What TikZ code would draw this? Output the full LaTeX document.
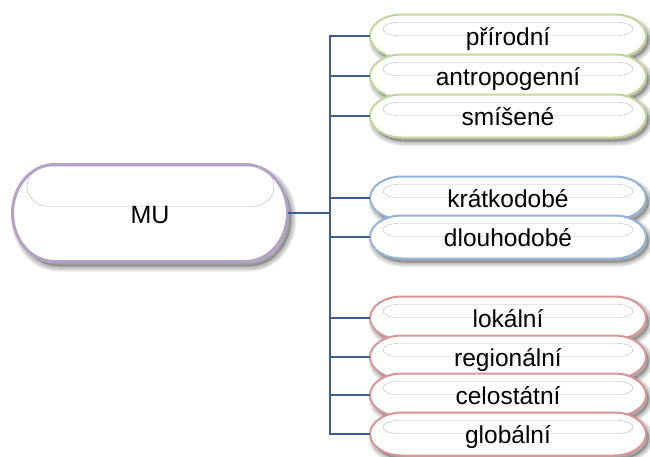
\documentclass[tikz,border=0pt]{standalone}
\usepackage{fontspec}
\setmainfont{Liberation Sans}
\definecolor{cgreen}{HTML}{C3D69B}
\definecolor{cblue}{HTML}{95B3D7}
\definecolor{cred}{HTML}{D99694}
\definecolor{cpurple}{HTML}{B3A2C7}
\definecolor{cline}{HTML}{3B5F96}
% pill outline: cx, cy, width, height, end x-radius
\newcommand\pillpath[5]{(#1-#3/2+#5,#2+#4/2) -- (#1+#3/2-#5,#2+#4/2) arc[start angle=90,end angle=-90,x radius=#5,y radius=#4/2] -- (#1-#3/2+#5,#2-#4/2) arc[start angle=270,end angle=90,x radius=#5,y radius=#4/2] -- cycle}
\tikzset{
  softshadow/.style={draw=black, fill=black, opacity=0.09},
  pillborder/.style={fill=white, draw=#1, line width=2pt},
  gloss/.style={draw=gray!55, line width=0.4pt},
  pilltext/.style={inner sep=0pt, minimum width=276pt, minimum height=43pt,
    font=\fontsize{24.5}{28}\selectfont, text height=22pt, text depth=4pt},
  mutext/.style={inner sep=0pt, minimum width=275pt, minimum height=97pt,
    font=\fontsize{25}{30}\selectfont, text height=24pt, text depth=4pt},
  conn/.style={draw=cline, line width=1.8pt},
}
\newcommand\branchnode[4]{% name, cy, colour, text
  \foreach \lw in {9,6,3}{\path[softshadow, line width=\lw pt, shift={(3,-4)}] \pillpath{508}{#2}{276}{43}{32};}
  \draw[pillborder=#3] \pillpath{508}{#2}{276}{43}{32};
  \draw[gloss] \pillpath{508}{#2+7}{250}{13}{15};
  \node[pilltext] (#1) at (508,#2) {#4};
}
\begin{document}
\begin{tikzpicture}[x=1pt,y=1pt]
\useasboundingbox (0,0) rectangle (650,-456);
% main node
\foreach \lw in {10,7,4}{\path[softshadow, line width=\lw pt, shift={(4,-5)}] \pillpath{150}{-213}{275}{97}{42};}
\draw[fill=white, draw=cpurple, line width=3pt] \pillpath{150}{-213}{275}{97}{42};
\draw[gloss] \pillpath{150.5}{-186.5}{247}{40}{22};
\node[mutext] (MU) at (150,-213) {MU};
% branch nodes
\branchnode{n1}{-36}{cgreen}{přírodní}
\branchnode{n2}{-76}{cgreen}{antropogenní}
\branchnode{n3}{-116}{cgreen}{smíšené}
\branchnode{n4}{-198}{cblue}{krátkodobé}
\branchnode{n5}{-237}{cblue}{dlouhodobé}
\branchnode{n6}{-318}{cred}{lokální}
\branchnode{n7}{-357}{cred}{regionální}
\branchnode{n8}{-395}{cred}{celostátní}
\branchnode{n9}{-434}{cred}{globální}
% connectors
\coordinate (spine) at (330,-213);
\draw[conn] (MU.east) -- (spine);
\draw[conn] (n1.west) -- (spine |- n1.west) -- (spine |- n9.west) -- (n9.west);
\foreach \n in {n2,n3,n4,n5,n6,n7,n8}{\draw[conn] (spine |- \n.west) -- (\n.west);}
\end{tikzpicture}
\end{document}
